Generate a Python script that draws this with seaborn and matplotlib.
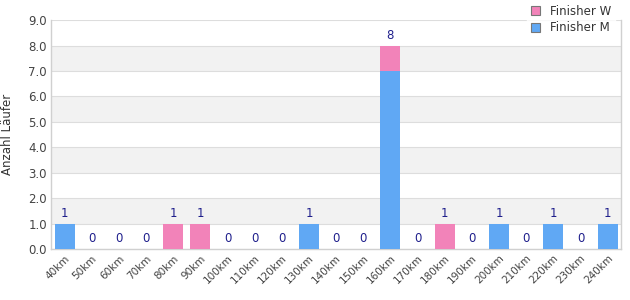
import matplotlib
matplotlib.use("Agg")
import matplotlib.pyplot as plt
import seaborn as sns
import pandas as pd
from matplotlib.patches import Patch

categories = ["40km", "50km", "60km", "70km", "80km", "90km", "100km", "110km", "120km",
              "130km", "140km", "150km", "160km", "170km", "180km", "190km", "200km",
              "210km", "220km", "230km", "240km"]
finisher_m = [1, 0, 0, 0, 0, 0, 0, 0, 0, 1, 0, 0, 7, 0, 0, 0, 1, 0, 1, 0, 1]
finisher_w = [0, 0, 0, 0, 1, 1, 0, 0, 0, 0, 0, 0, 1, 0, 1, 0, 0, 0, 0, 0, 0]
yticks = [0, 1, 2, 3, 4, 5, 6, 7, 8, 9]

blue = "#60a8f4"
pink = "#f283b9"
label_col = "#1f1f8c"

df = pd.DataFrame({"cat": categories, "M": finisher_m, "W": finisher_w})
df["total"] = df["M"] + df["W"]

sns.set_theme(style="white")
plt.rcParams["font.family"] = ["DejaVu Sans"]

fig = plt.figure(figsize=(6.3, 3.0), dpi=100)
ax = fig.add_axes([0.081, 0.17, 0.905, 0.763])

# alternating bands
for i in range(len(yticks) - 1):
    if i % 2 == 1:
        ax.axhspan(yticks[i], yticks[i + 1], color="#f2f2f2", zorder=0, lw=0)

sns.barplot(data=df, x="cat", y="total", color=pink, saturation=1, width=0.74, ax=ax,
            zorder=3, linewidth=0, edgecolor="none")
sns.barplot(data=df, x="cat", y="M", color=blue, saturation=1, width=0.74, ax=ax,
            zorder=3, linewidth=0, edgecolor="none")

for i, t in enumerate(df["total"]):
    ax.text(i, t + 0.15, str(int(t)), ha="center", va="bottom", fontsize=8.5, color=label_col, zorder=4)

ax.set_ylim(0, 9)
ax.set_xlim(-0.5, len(categories) - 0.5)
ax.set_yticks(yticks)
ax.set_yticklabels([f"{v:.1f}" for v in yticks], fontsize=8.5, color="#444444")
ax.set_xticks(range(len(categories)))
ax.set_xticklabels(categories, rotation=45, ha="right", rotation_mode="anchor", fontsize=7.5, color="#444444")
ax.tick_params(axis="both", length=0, pad=3)
ax.set_xlabel("")
ax.set_ylabel("Anzahl Läufer", fontsize=8.5, color="#333333", labelpad=10)
ax.yaxis.grid(True, color="#dddddd", lw=0.8, zorder=1)
ax.set_axisbelow(True)
for s in ["left", "bottom", "right"]:
    ax.spines[s].set_color("#d0d0d0")
    ax.spines[s].set_linewidth(1.0)
ax.spines["top"].set_visible(False)

handles = [Patch(facecolor=pink, edgecolor="#777777", lw=0.8, label="Finisher W"),
           Patch(facecolor=blue, edgecolor="#777777", lw=0.8, label="Finisher M")]
leg = fig.legend(handles=handles, loc="upper right", bbox_to_anchor=(0.985, 1.015), frameon=True,
                 fontsize=8.5, handlelength=0.8, handleheight=0.8, handletextpad=0.8,
                 labelspacing=0.3, borderpad=0.3, fancybox=False)
leg.get_frame().set_edgecolor("white")
leg.get_frame().set_facecolor("white")
for t in leg.get_texts():
    t.set_color("#333333")

fig.savefig("out.png", dpi=100)
